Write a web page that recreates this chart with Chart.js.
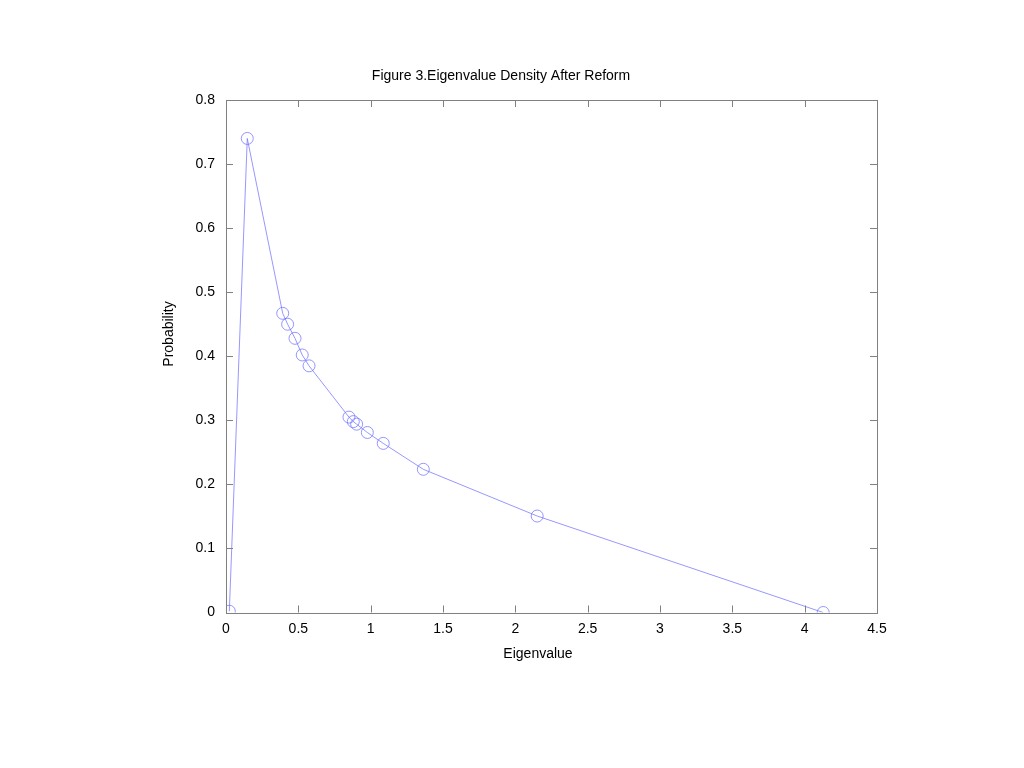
<!DOCTYPE html>
<html>
<head>
<meta charset="utf-8">
<script src="https://cdn.jsdelivr.net/npm/chart.js@4/dist/chart.umd.min.js"></script>
<style>
html,body{margin:0;padding:0;background:#fff;}
canvas{display:block;}
</style>
</head>
<body>
<canvas id="c" width="1024" height="768"></canvas>
<script>
const titleText = 'Figure 3.Eigenvalue Density After Reform';
const xLabel = 'Eigenvalue';
const yLabel = 'Probability';
const eigenvalues = [0.023, 0.147, 0.392, 0.426, 0.477, 0.527, 0.574, 0.850, 0.880, 0.903, 0.977, 1.087, 1.364, 2.151, 4.128];
const probabilities = [0.002, 0.740, 0.467, 0.450, 0.428, 0.402, 0.385, 0.305, 0.298, 0.294, 0.281, 0.264, 0.2235, 0.1506, 0.0];
const xRange = [0, 4.5];
const yRange = [0, 0.8];
const xStep = 0.5;
const yStep = 0.1;

const points = eigenvalues.map((x, i) => ({x: x, y: probabilities[i]}));
const FONT = 'Liberation Sans, Arial, Helvetica, sans-serif';
const fmt = v => String(parseFloat(Number(v).toFixed(3)));

const frame = {
  id: 'frame',
  afterDraw(chart) {
    const {ctx, chartArea: a, scales} = chart;
    ctx.save();
    ctx.strokeStyle = '#808080';
    ctx.lineWidth = 1;
    ctx.beginPath();
    const tl = 7;
    scales.x.ticks.forEach(t => {
      const px = Math.round(scales.x.getPixelForValue(t.value)) + 0.5;
      ctx.moveTo(px, a.bottom); ctx.lineTo(px, a.bottom - tl);
      ctx.moveTo(px, a.top); ctx.lineTo(px, a.top + tl);
    });
    scales.y.ticks.forEach(t => {
      const py = Math.round(scales.y.getPixelForValue(t.value)) + 0.5;
      ctx.moveTo(a.left, py); ctx.lineTo(a.left + tl, py);
      ctx.moveTo(a.right, py); ctx.lineTo(a.right - tl, py);
    });
    ctx.stroke();
    ctx.strokeRect(Math.round(a.left) + 0.5, Math.round(a.top) + 0.5, Math.round(a.right - a.left), Math.round(a.bottom - a.top));

    // axis titles
    ctx.fillStyle = '#000';
    ctx.font = '14px ' + FONT;
    ctx.textAlign = 'center';
    ctx.textBaseline = 'middle';
    ctx.fillText(xLabel, a.left + 312, a.bottom + 42);
    ctx.translate(a.left - 57, a.top + 234);
    ctx.rotate(-Math.PI / 2);
    ctx.fillText(yLabel, 0, 0);
    ctx.restore();
  }
};

new Chart(document.getElementById('c'), {
  type: 'scatter',
  data: {
    datasets: [{
      data: points,
      showLine: true,
      borderColor: 'rgba(110,110,255,0.9)',
      borderWidth: 0.8,
      pointRadius: 6,
      pointHoverRadius: 6,
      pointStyle: 'circle',
      pointBackgroundColor: 'rgba(0,0,0,0)',
      pointBorderColor: 'rgba(110,110,255,0.9)',
      pointBorderWidth: 0.8,
      tension: 0
    }]
  },
  options: {
    responsive: false,
    animation: false,
    devicePixelRatio: 1,
    layout: {padding: {left: 125, right: 147, top: 67.6, bottom: 95.5}},
    plugins: {
      legend: {display: false},
      tooltip: {enabled: false},
      title: {
        display: true,
        text: titleText,
        color: '#000',
        font: {family: FONT, size: 14, weight: 'normal', lineHeight: 1.2},
        padding: {top: 0, bottom: 15.6}
      }
    },
    scales: {
      x: {
        type: 'linear',
        min: xRange[0], max: xRange[1],
        afterFit(s) { s.height = 60; },
        ticks: {stepSize: xStep, color: '#000', font: {family: FONT, size: 14}, padding: 8, maxRotation: 0, callback: fmt},
        grid: {display: false, drawTicks: false},
        border: {display: false},
        title: {display: false}
      },
      y: {
        type: 'linear',
        min: yRange[0], max: yRange[1],
        afterFit(s) { s.width = 101; },
        ticks: {stepSize: yStep, color: '#000', font: {family: FONT, size: 14}, padding: 11, callback: fmt},
        grid: {display: false, drawTicks: false},
        border: {display: false},
        title: {display: false}
      }
    }
  },
  plugins: [frame]
});
</script>
</body>
</html>
